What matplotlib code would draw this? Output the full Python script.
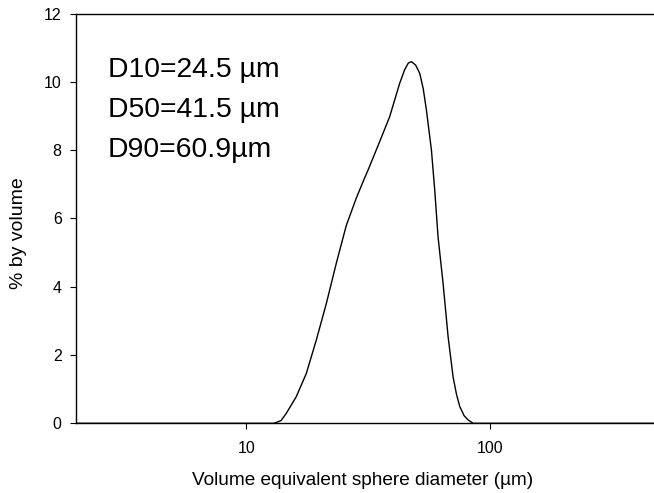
import matplotlib
matplotlib.use("Agg")
import matplotlib.pyplot as plt
from matplotlib.ticker import FixedLocator, NullLocator, FixedFormatter

plt.rcParams['font.family'] = ['Liberation Sans', 'DejaVu Sans']

# Particle size distribution
diameter_um = [2.0, 10.0, 13.0, 13.9, 14.6, 16.05, 17.65, 19.4, 21.33, 23.44, 25.77,
               28.33, 30.2, 32.13, 35.32, 38.82, 42.68, 44.7, 46.3, 47.66, 49.6, 51.56,
               53.3, 54.94, 57.6, 59.43, 61.32, 64.3, 67.43, 70.68, 73.0, 75.3, 78.5, 81.44,
               85.4, 100.0, 500.0]
pct_volume = [0.0, 0.0, 0.0, 0.08, 0.29, 0.78, 1.46, 2.44, 3.51, 4.69, 5.8,
              6.6, 7.08, 7.53, 8.25, 8.98, 9.96, 10.35, 10.55, 10.59, 10.49, 10.25,
              9.8, 9.17, 8.0, 6.83, 5.46, 4.10, 2.54, 1.36, 0.85, 0.49, 0.22, 0.1,
              0.0, 0.0, 0.0]

annotations = ["D10=24.5 µm", "D50=41.5 µm", "D90=60.9µm"]
x_ticks = [10, 100]
x_tick_labels = ["10", "100"]
y_ticks = [0, 2, 4, 6, 8, 10, 12]

W, H = 654, 493
fig = plt.figure(figsize=(W / 100, H / 100), dpi=100)
left, right, top, bottom = 76, 660, 13.5, 423.3
ax = fig.add_axes([left / W, 1 - bottom / H, (right - left) / W, (bottom - top) / H])

ax.plot(diameter_um, pct_volume, color='black', lw=1.0)

ax.set_xscale('log')
ax.set_xlim(2, 500)
ax.set_ylim(0, 12)
ax.xaxis.set_major_locator(FixedLocator(x_ticks))
ax.xaxis.set_major_formatter(FixedFormatter(x_tick_labels))
ax.xaxis.set_minor_locator(NullLocator())
ax.set_yticks(y_ticks)
ax.set_yticklabels([str(v) for v in y_ticks])

for s in ax.spines.values():
    s.set_linewidth(1.0)
    s.set_color('black')
ax.spines['right'].set_visible(False)

ax.tick_params(axis='both', direction='out', length=4.3, width=0.8,
               labelsize=11.5, colors='black')
ax.tick_params(axis='x', pad=8.5)
ax.tick_params(axis='y', pad=6)

ax.set_xlabel("Volume equivalent sphere diameter (µm)", fontsize=13.7)
ax.xaxis.set_label_coords((363 - left) / (right - left), (bottom - 472) / (bottom - top))
ax.set_ylabel("% by volume", fontsize=14)
ax.yaxis.set_label_coords((27 - left) / (right - left), (bottom - 233) / (bottom - top))

baselines = [77.3, 116.7, 156.7]
for txt, yb in zip(annotations, baselines):
    fig.text(108 / W, 1 - yb / H, txt, fontsize=20.4, va='baseline', ha='left')

fig.savefig("out.png", dpi=100)
